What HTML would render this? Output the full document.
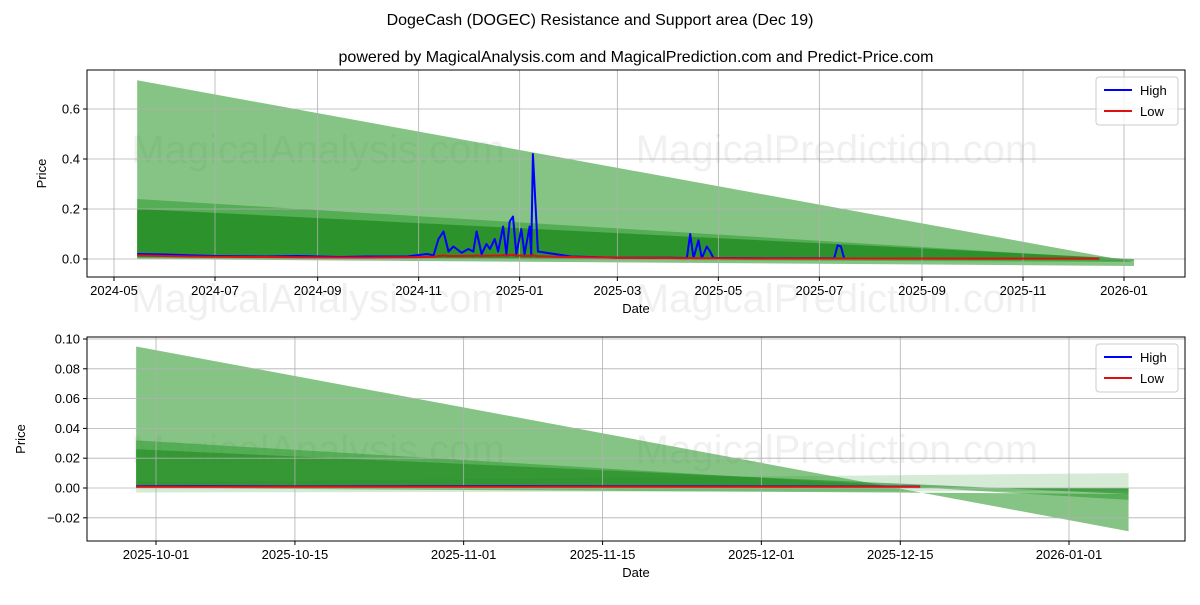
<!DOCTYPE html>
<html><head><meta charset="utf-8"><style>
body{margin:0;background:#fff;}
svg text{font-family:"Liberation Sans","DejaVu Sans",sans-serif;}
</style></head><body>
<svg id="fig" width="1200" height="600" viewBox="0 0 1200 600" xmlns="http://www.w3.org/2000/svg">
<rect width="1200" height="600" fill="#fff"/>
<text x="600" y="25" font-size="16" text-anchor="middle">DogeCash (DOGEC) Resistance and Support area (Dec 19)</text>
<text x="636" y="62" font-size="16" text-anchor="middle">powered by MagicalAnalysis.com and MagicalPrediction.com and Predict-Price.com</text>
<g id="top"></g>
<g id="bot"></g>
<g fill="#000" fill-opacity="0.06" font-size="40" text-anchor="middle">
<text x="318" y="312">MagicalAnalysis.com</text><text x="837" y="312">MagicalPrediction.com</text>
</g>
</svg>
<script>
// ---- Top chart data ----
const topDates = ["2024-05-15","2024-06-01","2024-06-15","2024-07-01","2024-08-01","2024-08-20","2024-09-15","2024-10-01","2024-10-25","2024-11-06","2024-11-10","2024-11-13","2024-11-16","2024-11-19","2024-11-22","2024-11-27","2024-12-01","2024-12-04","2024-12-06","2024-12-09","2024-12-12","2024-12-14","2024-12-17","2024-12-19","2024-12-22","2024-12-24","2024-12-26","2024-12-28","2024-12-30","2025-01-02","2025-01-04","2025-01-07","2025-01-08","2025-01-09","2025-01-12","2025-02-01","2025-03-01","2025-04-01","2025-04-12","2025-04-14","2025-04-16","2025-04-19","2025-04-21","2025-04-24","2025-04-26","2025-04-28","2025-05-01","2025-06-01","2025-07-10","2025-07-12","2025-07-14","2025-07-16","2025-08-15","2025-10-01","2025-12-17"];
const topHigh = [0.02,0.018,0.015,0.012,0.01,0.012,0.008,0.01,0.01,0.02,0.015,0.08,0.11,0.03,0.05,0.025,0.04,0.03,0.11,0.02,0.06,0.04,0.08,0.03,0.13,0.02,0.15,0.17,0.02,0.12,0.02,0.13,0.02,0.42,0.03,0.01,0.005,0.005,0.004,0.1,0.004,0.075,0.003,0.05,0.03,0.004,0.004,0.003,0.003,0.055,0.05,0.002,0.002,0.002,0.002];
const topLow = [0.015,0.012,0.01,0.009,0.008,0.007,0.006,0.006,0.007,0.008,0.009,0.012,0.014,0.012,0.012,0.012,0.013,0.012,0.014,0.012,0.013,0.013,0.014,0.013,0.015,0.013,0.016,0.017,0.013,0.014,0.012,0.013,0.012,0.015,0.011,0.008,0.005,0.004,0.003,0.004,0.003,0.003,0.003,0.003,0.003,0.003,0.003,0.002,0.002,0.002,0.002,0.002,0.002,0.002,0.002];
const topTicksY = [0.0,0.2,0.4,0.6];
const topTicksX = ["2024-05","2024-07","2024-09","2024-11","2025-01","2025-03","2025-05","2025-07","2025-09","2025-11","2026-01"];
const topBandStart = "2024-05-15", topBandEnd = "2026-01-07";
const topBands = [[0.715,-0.012,0.0,-0.028],[0.24,-0.004,0.004,-0.012],[0.2,0.0,0.008,-0.006]];
// ---- Bottom chart data ----
const botDates = ["2025-09-29","2025-10-05","2025-10-15","2025-10-25","2025-11-05","2025-11-15","2025-11-25","2025-12-05","2025-12-17"];
const botHigh = [0.0012,0.0013,0.0011,0.0012,0.0013,0.0012,0.0012,0.0011,0.0010];
const botLow = [0.0009,0.0009,0.0008,0.0008,0.0009,0.0008,0.0008,0.0008,0.0008];
const botTicksY = [-0.02,0.0,0.02,0.04,0.06,0.08,0.10];
const botTickLabels = ["\u22120.02","0.00","0.02","0.04","0.06","0.08","0.10"];
const botTicksX = ["2025-10-01","2025-10-15","2025-11-01","2025-11-15","2025-12-01","2025-12-15","2026-01-01"];
const botBandStart = "2025-09-29", botBandEnd = "2026-01-07";
const botBands = [[0.095,-0.029,0.0,-0.004],[0.004,0.010,-0.003,-0.002],[0.032,-0.008,0.0,0.0],[0.026,-0.004,0.0,0.0]];

const NS="http://www.w3.org/2000/svg";
function day(s){const p=s.split("-").map(Number);return Date.UTC(p[0],p[1]-1,p[2]||1)/86400000;}
function mk(parent,tag,attrs){const e=document.createElementNS(NS,tag);for(const k in attrs)e.setAttribute(k,attrs[k]);parent.appendChild(e);return e;}

function drawChart(g,cfg){
  const {x0,x1,y0,y1,d0,px0,d1,px1,v0,py0,v1,py1}=cfg;
  const X=d=>px0+(day(d)-day(d0))*(px1-px0)/(day(d1)-day(d0));
  const Y=v=>py0+(v-v0)*(py1-py0)/(v1-v0);
  [["MagicalAnalysis.com",318],["MagicalPrediction.com",837]].forEach(w=>{
    const wm=mk(g,"text",{x:w[1],y:cfg.wmY,"font-size":40,"text-anchor":"middle",fill:"#000","fill-opacity":0.06});
    
    
    wm.textContent=w[0];
  });
  cfg.bands.forEach((b,i)=>{
    const xs=X(cfg.bs),xe=X(cfg.be);
    const p=mk(g,"polygon",{points:`${xs},${Y(b[0])} ${xe},${Y(b[1])} ${xe},${Y(b[3])} ${xs},${Y(b[2])}`,fill:cfg.bandFill[i],"fill-opacity":cfg.bandOp[i]});
    
    
  });
  cfg.tx.forEach(t=>{const x=X(t);
    const l=mk(g,"line",{x1:x,x2:x,y1:y0,y2:y1,stroke:"#b0b0b0","stroke-width":0.8});
    
    
    mk(g,"line",{x1:x,x2:x,y1:y1,y2:y1+4,stroke:"#000"});
    const t2=mk(g,"text",{x:x,y:y1+18,"font-size":13,"text-anchor":"middle"});
    
    
    t2.textContent=t;});
  cfg.ty.forEach((v,i)=>{const y=Y(v);
    const l=mk(g,"line",{x1:x0,x2:x1,y1:y,y2:y,stroke:"#b0b0b0","stroke-width":0.8});
    
    
    mk(g,"line",{x1:x0-4,x2:x0,y1:y,y2:y,stroke:"#000"});
    const t=mk(g,"text",{x:x0-7,y:y+4.5,"font-size":13,"text-anchor":"end"});
    
    
    t.textContent=cfg.tyl[i];});
  const path=(arr)=>cfg.dates.map((d,i)=>(i?"L":"M")+X(d).toFixed(1)+","+Y(arr[i]).toFixed(1)).join(" ");
  const hi=mk(g,"path",{d:path(cfg.high),fill:"none",stroke:"#0000ff","stroke-width":2,"stroke-linejoin":"round"});
  
  
  const lo=mk(g,"path",{d:path(cfg.low),fill:"none",stroke:"#dd1111","stroke-width":2,"stroke-linejoin":"round"});
  
  
  const f=mk(g,"rect",{x:x0,y:y0,width:x1-x0,height:y1-y0,fill:"none",stroke:"#000","stroke-width":1});
  
  
  const xt=mk(g,"text",{x:(x0+x1)/2,y:y1+36,"font-size":13,"text-anchor":"middle"});
  
  
  xt.textContent="Date";
  const yt=mk(g,"text",{x:cfg.ytx,y:(y0+y1)/2,"font-size":13,"text-anchor":"middle",transform:`rotate(-90 ${cfg.ytx} ${(y0+y1)/2})`});
  
  
  yt.textContent="Price";
  const lg=mk(g,"g",{});
  
  
  const lx=x1-89,ly=y0+7;
  mk(lg,"rect",{x:lx,y:ly,width:82,height:48,rx:3,fill:"#fff","fill-opacity":0.8,stroke:"#ccc"});
  [["High","#0000ff"],["Low","#dd1111"]].forEach((e,i)=>{
    const eg=mk(lg,"g",{});
    
    
    mk(eg,"line",{x1:lx+8,x2:lx+36,y1:ly+13+i*21,y2:ly+13+i*21,stroke:e[1],"stroke-width":2});
    const t=mk(eg,"text",{x:lx+44,y:ly+18+i*21,"font-size":13});t.textContent=e[0];
  });
}
drawChart(document.getElementById("top"),{x0:87,x1:1185,y0:70,y1:277,d0:"2024-05-01",px0:114,d1:"2026-01-01",px1:1124,v0:0,py0:259,v1:0.6,py1:109,
  bands:topBands,bs:topBandStart,be:topBandEnd,bandFill:["#2e9a2e","#2e9a2e","#1f8a1f"],bandOp:[0.58,0.55,0.75],
  tx:topTicksX,ty:topTicksY,tyl:["0.0","0.2","0.4","0.6"],dates:topDates,high:topHigh,low:topLow,ytx:46,wmY:163});
drawChart(document.getElementById("bot"),{x0:87,x1:1185,y0:337,y1:541,d0:"2025-10-01",px0:156,d1:"2026-01-01",px1:1069,v0:0,py0:488,v1:0.1,py1:339,
  bands:botBands,bs:botBandStart,be:botBandEnd,bandFill:["#2e9a2e","#2e9a2e","#2e9a2e","#1f8a1f"],bandOp:[0.58,0.2,0.55,0.6],
  tx:botTicksX,ty:botTicksY,tyl:botTickLabels,dates:botDates,high:botHigh,low:botLow,ytx:25,wmY:463});
</script>
</body></html>
